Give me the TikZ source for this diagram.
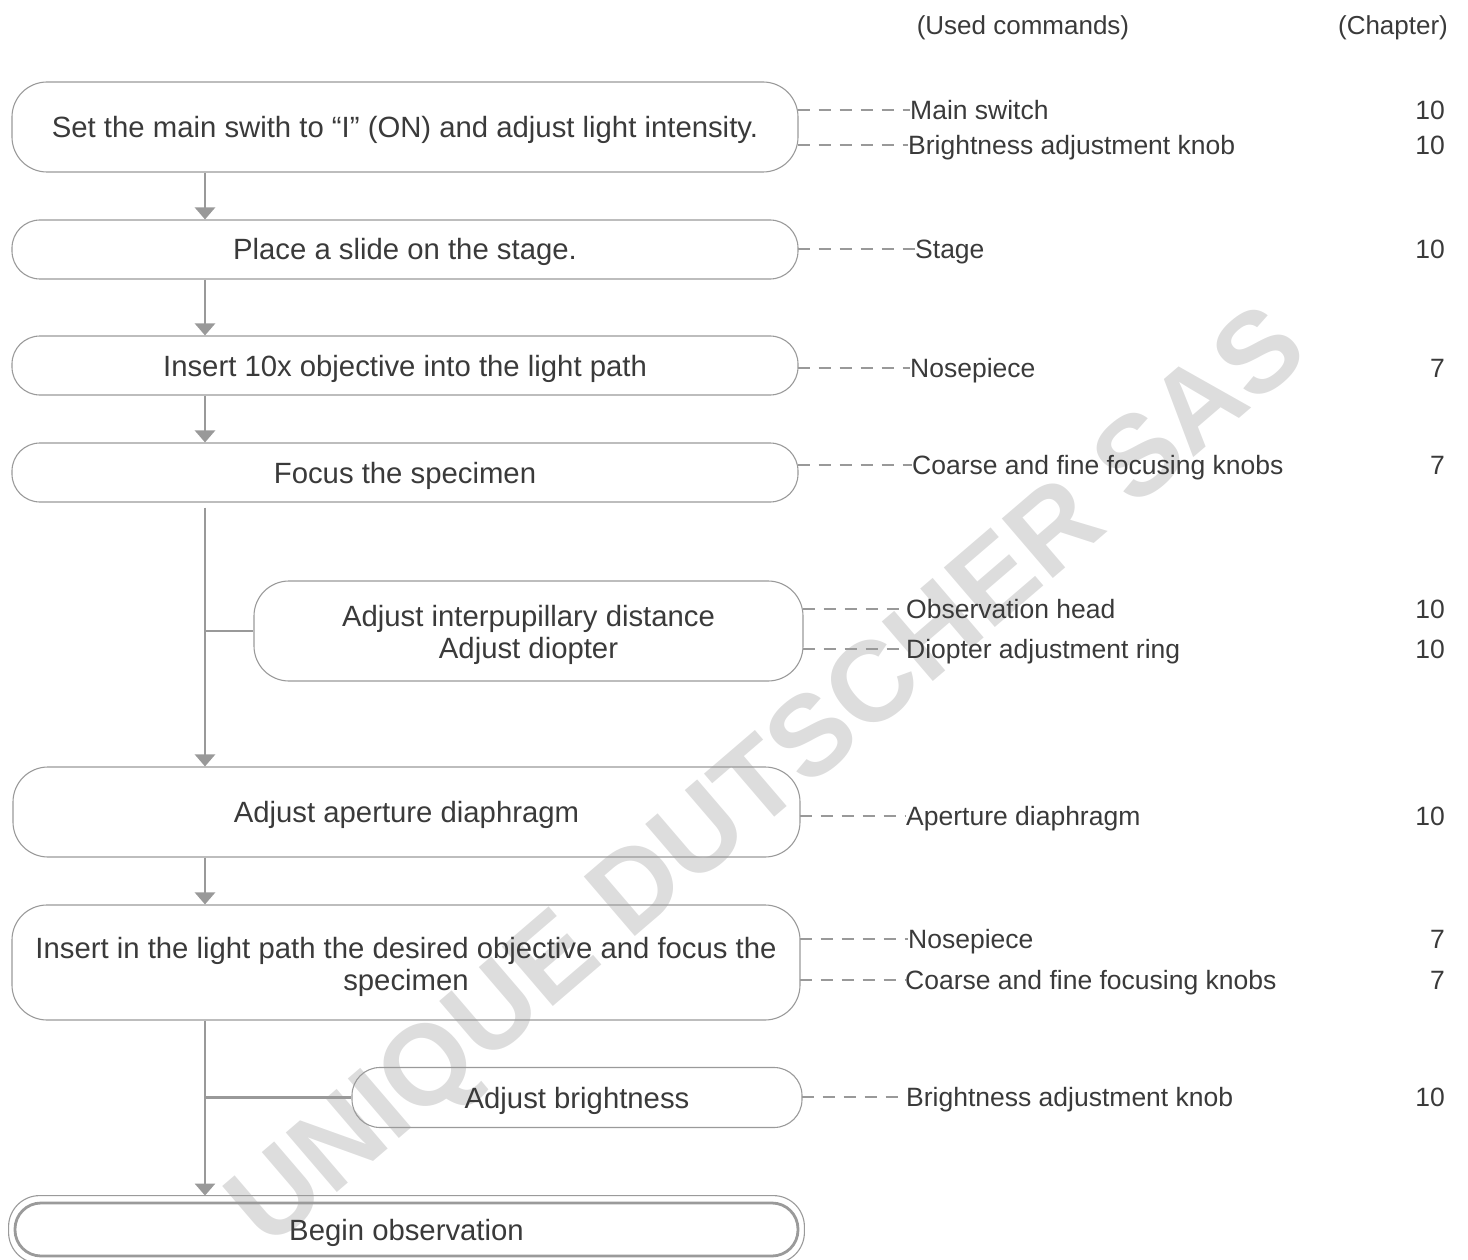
\documentclass[tikz,border=0pt]{standalone}
\usepackage{fontspec}
\setmainfont{Liberation Sans}
\usetikzlibrary{arrows.meta}
\definecolor{txt}{HTML}{3A3A3A}
\definecolor{boxline}{HTML}{9A9A9A}
\definecolor{arrline}{HTML}{999999}
\definecolor{wmark}{HTML}{DDDDDD}
\tikzset{
  stepbox/.style={draw=boxline, line width=1.1pt, rounded corners=35pt, inner sep=0pt,
    align=center, text=txt, font=\fontsize{29.3}{32}\selectfont, text height=21pt, text depth=0pt},
  twoline/.style={stepbox, text height=55pt, text depth=0pt},
  shortbox/.style={stepbox, rounded corners=28pt},
  arr/.style={draw=arrline, line width=2.6pt, -{Triangle[width=20pt,length=12pt]}},
  branch/.style={draw=arrline, line width=2.6pt},
  dashline/.style={draw=arrline, line width=1.8pt, dash pattern=on 12pt off 9pt},
  lbl/.style={inner sep=0pt, text=txt, font=\fontsize{26.5}{30}\selectfont, text height=19pt, text depth=0pt, anchor=west},
  chap/.style={lbl, anchor=east},
  head/.style={inner sep=0pt, text=txt, font=\fontsize{26}{30}\selectfont, text height=19pt, text depth=0pt}
}
\begin{document}
\begin{tikzpicture}[x=1pt,y=-1pt]
\useasboundingbox (0,0) rectangle (1468,1260);
% watermark
\node[rotate=40.6, text=wmark, font=\bfseries\fontsize{114}{114}\selectfont, inner sep=0pt] (wm) at (772,782) {UNIQUE DUTSCHER SAS};

\coordinate (spine) at (205,0);

% headers
\node[head] (h1) at (1023,25) {(Used commands)};
\node[head] (h2) at (1393,25) {(Chapter)};

% boxes
\node[stepbox, minimum width=786pt, minimum height=90pt] (b1) at (405,127) {Set the main swith to “I” (ON) and adjust light intensity.};
\node[shortbox, minimum width=786pt, minimum height=59pt] (b2) at (405,249.5) {Place a slide on the stage.};
\node[shortbox, minimum width=786pt, minimum height=59pt] (b3) at (405,365.5) {Insert 10x objective into the light path};
\node[shortbox, minimum width=786pt, minimum height=59pt] (b4) at (405,472.5) {Focus the specimen};
\node[twoline, minimum width=549pt, minimum height=100pt] (b5) at (528.5,631) {Adjust interpupillary distance\\Adjust diopter};
\node[stepbox, minimum width=787pt, minimum height=90pt] (b6) at (406.5,812) {Adjust aperture diaphragm};
\node[twoline, minimum width=788pt, minimum height=115pt] (b7) at (406,962.5) {Insert in the light path the desired objective and focus the\\specimen};
\node[shortbox, minimum width=450pt, minimum height=60pt] (b8) at (577,1097.5) {Adjust brightness};
\node[stepbox, rounded corners=26pt, line width=2.8pt, minimum width=783pt, minimum height=53pt] (b9) at (406.5,1229.5) {Begin observation};
\draw[boxline, line width=1.1pt, rounded corners=31pt] ([xshift=-5pt,yshift=6pt]b9.north west) rectangle ([xshift=5pt,yshift=-6pt]b9.south east);

% arrows
\draw[arr] (b1.south -| spine) -- (b2.north -| spine);
\draw[arr] (b2.south -| spine) -- (b3.north -| spine);
\draw[arr] (b3.south -| spine) -- (b4.north -| spine);
\draw[arr] ([yshift=-5pt]b4.south -| spine) -- (b6.north -| spine);
\draw[branch] (b5.west -| spine) -- (b5.west);
\draw[arr] (b6.south -| spine) -- (b7.north -| spine);
\draw[arr] (b7.south -| spine) -- ([yshift=6pt]b9.north -| spine);
\draw[branch] (b8.west -| spine) -- (b8.west);

% labels
\node[lbl] (l1) at (910,110) {Main switch};
\node[lbl] (l2) at (908,145) {Brightness adjustment knob};
\node[lbl] (l3) at (915,249) {Stage};
\node[lbl] (l4) at (910,368) {Nosepiece};
\node[lbl] (l5) at (912,465) {Coarse and fine focusing knobs};
\node[lbl] (l6) at (906,609) {Observation head};
\node[lbl] (l7) at (906,649) {Diopter adjustment ring};
\node[lbl] (l8) at (906,816) {Aperture diaphragm};
\node[lbl] (l9) at (908,939) {Nosepiece};
\node[lbl] (l10) at (905,980) {Coarse and fine focusing knobs};
\node[lbl] (l11) at (906,1097) {Brightness adjustment knob};

\node[chap] (c1) at (1445,110) {10};
\node[chap] (c2) at (1445,145) {10};
\node[chap] (c3) at (1445,249) {10};
\node[chap] (c4) at (1445,368) {7};
\node[chap] (c5) at (1445,465) {7};
\node[chap] (c6) at (1445,609) {10};
\node[chap] (c7) at (1445,649) {10};
\node[chap] (c8) at (1445,816) {10};
\node[chap] (c9) at (1445,939) {7};
\node[chap] (c10) at (1445,980) {7};
\node[chap] (c11) at (1445,1097) {10};

% dashed connectors
\draw[dashline] ([xshift=-1pt]b1.east |- l1.west) -- (l1.west);
\draw[dashline] ([xshift=-1pt]b1.east |- l2.west) -- (l2.west);
\draw[dashline] ([xshift=-1pt]b2.east |- l3.west) -- (l3.west);
\draw[dashline] ([xshift=-1pt]b3.east |- l4.west) -- (l4.west);
\draw[dashline] ([xshift=-1pt]b4.east |- l5.west) -- (l5.west);
\draw[dashline] ([xshift=-1pt]b5.east |- l6.west) -- (l6.west);
\draw[dashline] ([xshift=-1pt]b5.east |- l7.west) -- (l7.west);
\draw[dashline] ([xshift=-1pt]b6.east |- l8.west) -- (l8.west);
\draw[dashline] ([xshift=-1pt]b7.east |- l9.west) -- (l9.west);
\draw[dashline] ([xshift=-1pt]b7.east |- l10.west) -- (l10.west);
\draw[dashline] ([xshift=-1pt]b8.east |- l11.west) -- (l11.west);
\end{tikzpicture}
\end{document}
